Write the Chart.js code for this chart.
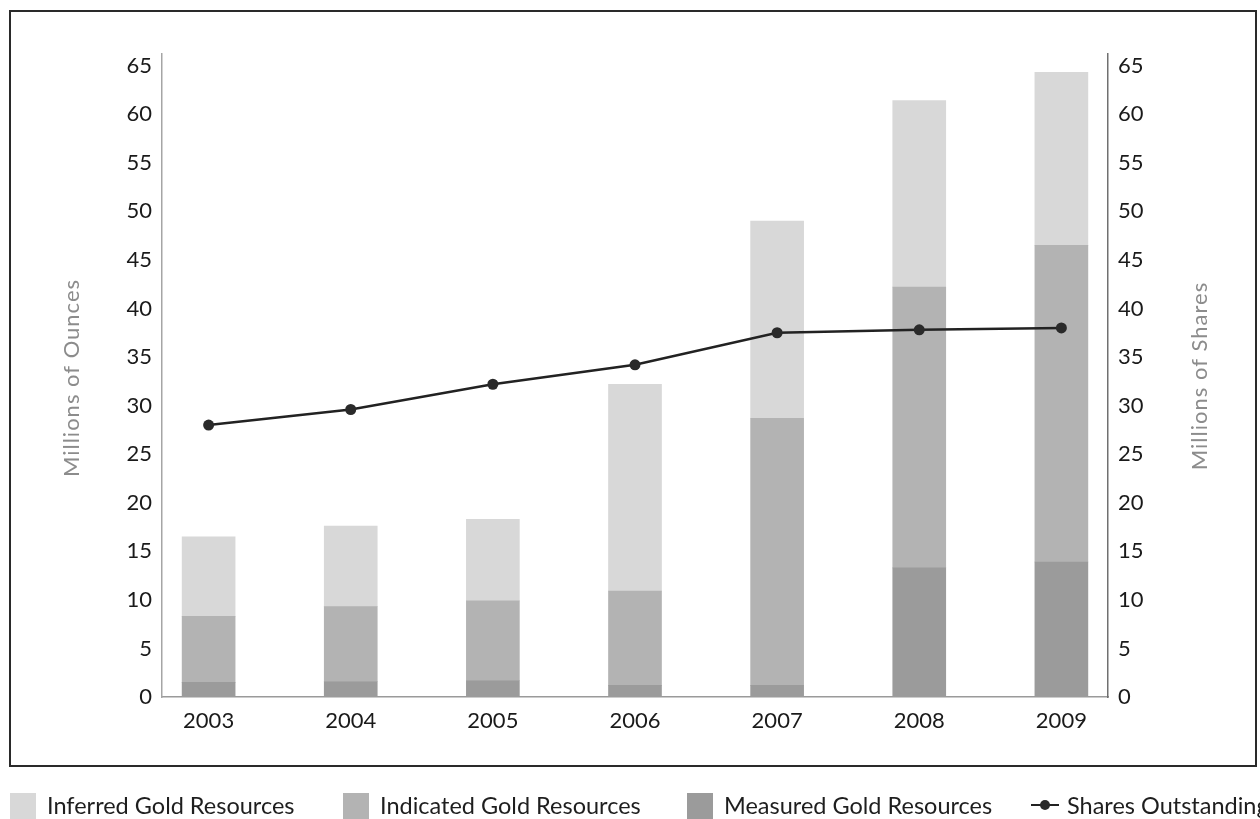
<!DOCTYPE html>
<html><head><meta charset="utf-8">
<script src="https://cdn.jsdelivr.net/npm/chart.js@4.4.0/dist/chart.umd.min.js"></script>
<style>html,body{margin:0;padding:0;background:#fff;overflow:hidden}#wrap{position:relative;width:1260px;height:819px}</style>
</head><body><div id="wrap"><canvas id="c" width="1260" height="819"></canvas></div>
<script>
const years = ['2003', '2004', '2005', '2006', '2007', '2008', '2009'];
const measured = [1.5, 1.6, 1.7, 1.2, 1.2, 13.3, 13.9];
const indicated = [6.8, 7.7, 8.2, 9.7, 27.5, 28.9, 32.6];
const inferred = [8.2, 8.3, 8.4, 21.3, 20.3, 19.2, 17.8];
const shares = [28.0, 29.6, 32.2, 34.2, 37.5, 37.8, 38.0];
const yTickValues = [0, 5, 10, 15, 20, 25, 30, 35, 40, 45, 50, 55, 60, 65];
const seriesNames = ['Inferred Gold Resources', 'Indicated Gold Resources', 'Measured Gold Resources', 'Shares Outstanding'];
const axisTitles = ['Millions of Ounces', 'Millions of Shares'];

const FONT = 'Lato, "Open Sans", "DejaVu Sans", sans-serif';
const C_INF = '#d8d8d8', C_IND = '#b3b3b3', C_MEA = '#9b9b9b', C_LINE = '#222222';

const framePlugin = {
  id: 'frame',
  beforeDraw(chart) {
    const ctx = chart.ctx;
    ctx.save();
    ctx.fillStyle = '#fff';
    ctx.fillRect(0, 0, chart.width, chart.height);
    ctx.strokeStyle = '#2a2a2a';
    ctx.lineWidth = 2;
    ctx.strokeRect(10, 11, 1246, 755);
    ctx.restore();
  },
  afterDraw(chart) {
    const ctx = chart.ctx;
    ctx.save();
    // axis titles
    ctx.fillStyle = '#8c8c8c';
    ctx.font = '22px ' + FONT;
    try { ctx.letterSpacing = '1px'; } catch (e) {}
    ctx.textAlign = 'center';
    ctx.textBaseline = 'middle';
    [[72, 378, axisTitles[0]], [1200, 376, axisTitles[1]]].forEach(([x, y, t]) => {
      ctx.save(); ctx.translate(x, y); ctx.rotate(-Math.PI / 2); ctx.fillText(t, 0, 0); ctx.restore();
    });
    try { ctx.letterSpacing = '0px'; } catch (e) {}
    // legend
    const items = [
      {x: 10, color: C_INF, label: seriesNames[0]},
      {x: 343, color: C_IND, label: seriesNames[1]},
      {x: 687, color: C_MEA, label: seriesNames[2]}
    ];
    ctx.font = '23.5px ' + FONT;
    ctx.textAlign = 'left';
    ctx.textBaseline = 'middle';
    items.forEach(it => {
      ctx.fillStyle = it.color;
      ctx.fillRect(it.x, 793, 26, 26);
      ctx.fillStyle = '#1e1e1e';
      ctx.fillText(it.label, it.x + 37, 806);
    });
    ctx.strokeStyle = C_LINE; ctx.lineWidth = 2;
    ctx.beginPath(); ctx.moveTo(1031, 805); ctx.lineTo(1059, 805); ctx.stroke();
    ctx.fillStyle = '#2a2a2a';
    ctx.beginPath(); ctx.arc(1045, 805, 5, 0, Math.PI * 2); ctx.fill();
    ctx.fillStyle = '#1e1e1e';
    ctx.fillText(seriesNames[3], 1067, 806);
    ctx.restore();
  }
};

const tickFont = {family: FONT, size: 22};
const setTicks = s => { s.ticks = yTickValues.map(v => ({value: v})); };
new Chart(document.getElementById('c'), {
  type: 'bar',
  data: {
    labels: years,
    datasets: [
      {type: 'line', label: seriesNames[3], data: shares, yAxisID: 'y2', borderColor: C_LINE, borderWidth: 2.5,
       pointRadius: 5.5, pointBackgroundColor: '#2a2a2a', pointBorderColor: '#2a2a2a', pointBorderWidth: 0, tension: 0, order: 0},
      {label: seriesNames[2], data: measured, backgroundColor: C_MEA, stack: 'gold', order: 1, barThickness: 53, yAxisID: 'y'},
      {label: seriesNames[1], data: indicated, backgroundColor: C_IND, stack: 'gold', order: 1, barThickness: 53, yAxisID: 'y'},
      {label: seriesNames[0], data: inferred, backgroundColor: C_INF, stack: 'gold', order: 1, barThickness: 53, yAxisID: 'y'}
    ]
  },
  options: {
    responsive: false, animation: false, devicePixelRatio: 1,
    layout: {padding: {top: 54, left: 0, right: 0, bottom: 0}},
    plugins: {legend: {display: false}, tooltip: {enabled: false}},
    scales: {
      x: {
        stacked: true, offset: false,
        grid: {display: false, drawTicks: false},
        border: {color: '#9a9a9a', width: 1.5},
        ticks: {font: tickFont, color: '#1a1a1a', padding: 11, maxRotation: 0, autoSkip: false},
        afterBuildTicks(s) { s._startValue = -0.328; s._valueRange = 6.656; },
        afterFit(s) { s.height = 122; }
      },
      y: {
        position: 'left', stacked: true, min: 0, max: 66.2,
        grid: {display: false, drawTicks: false},
        border: {color: '#a5a5a5', width: 1.5},
        ticks: {font: tickFont, color: '#1a1a1a', padding: 10},
        afterBuildTicks: setTicks,
        afterFit(s) { s.width = 162; }
      },
      y2: {
        position: 'right', min: 0, max: 66.2,
        grid: {display: false, drawTicks: false},
        border: {color: '#707070', width: 1.5},
        ticks: {font: tickFont, color: '#1a1a1a', padding: 10},
        afterBuildTicks: setTicks,
        afterFit(s) { s.width = 152; }
      }
    }
  },
  plugins: [framePlugin]
});
</script></body></html>
